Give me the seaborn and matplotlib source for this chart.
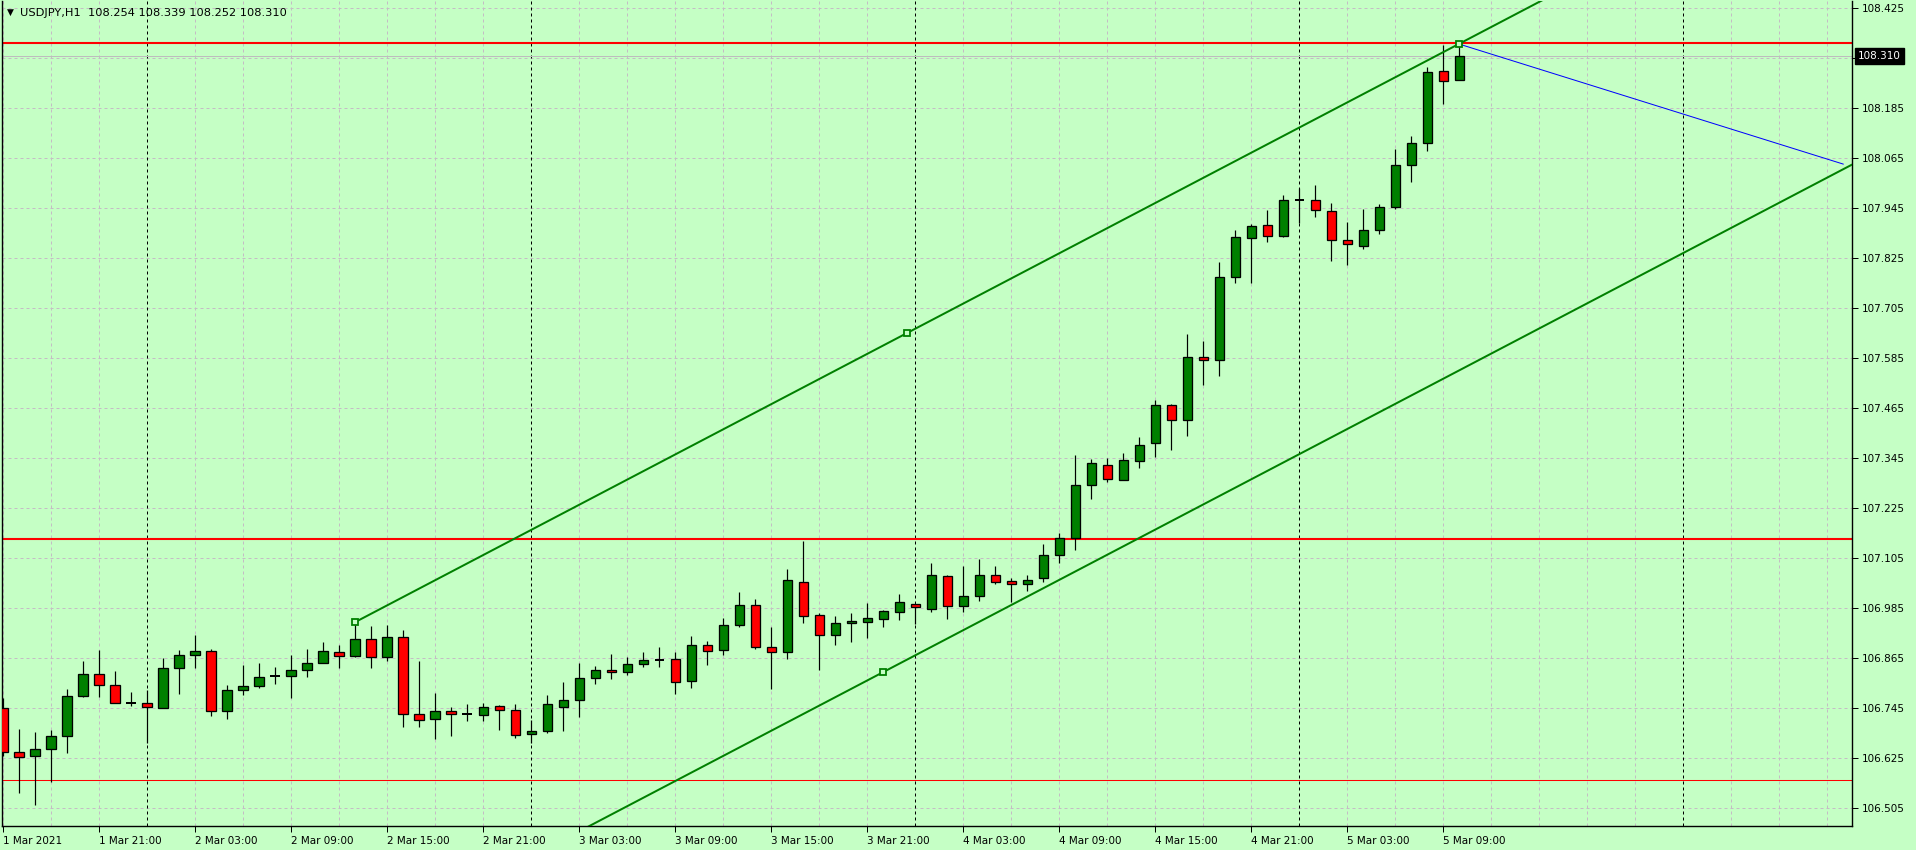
import numpy as np
import pandas as pd
import matplotlib
matplotlib.use("Agg")
import matplotlib.pyplot as plt
import seaborn as sns
from matplotlib.transforms import blended_transform_factory

# ---------------- data ----------------
title_symbol = "USDJPY,H1"
title_ohlc = "108.254 108.339 108.252 108.310"

opens = [106.746, 106.640, 106.631, 106.648, 106.679, 106.774, 106.828, 106.802, 106.758, 106.758,
         106.746, 106.842, 106.874, 106.883, 106.739, 106.789, 106.798, 106.822, 106.823, 106.838,
         106.854, 106.881, 106.871, 106.912, 106.868, 106.915, 106.732, 106.720, 106.739, 106.731,
         106.729, 106.751, 106.741, 106.684, 106.691, 106.749, 106.766, 106.818, 106.838, 106.833,
         106.852, 106.862, 106.864, 106.811, 106.898, 106.886, 106.946, 106.992, 106.893, 106.881,
         107.047, 106.968, 106.922, 106.949, 106.953, 106.960, 106.977, 106.995, 106.984, 107.062,
         106.991, 107.014, 107.064, 107.050, 107.044, 107.057, 107.114, 107.153, 107.280, 107.330,
         107.292, 107.338, 107.381, 107.472, 107.438, 107.587, 107.582, 107.779, 107.873, 107.904,
         107.878, 107.965, 107.964, 107.938, 107.870, 107.855, 107.894, 107.947, 108.048, 108.101,
         108.274, 108.254]
highs = [106.770, 106.696, 106.687, 106.694, 106.792, 106.858, 106.884, 106.834, 106.785, 106.788,
         106.866, 106.886, 106.920, 106.888, 106.802, 106.848, 106.853, 106.843, 106.874, 106.887,
         106.903, 106.896, 106.952, 106.942, 106.944, 106.932, 106.858, 106.782, 106.747, 106.756,
         106.757, 106.754, 106.756, 106.716, 106.778, 106.807, 106.853, 106.847, 106.875, 106.867,
         106.879, 106.891, 106.879, 106.918, 106.906, 106.961, 107.023, 107.007, 106.940, 107.079,
         107.146, 106.974, 106.966, 106.974, 106.998, 106.981, 107.020, 106.996, 107.094, 107.065,
         107.086, 107.104, 107.087, 107.058, 107.066, 107.139, 107.166, 107.353, 107.343, 107.345,
         107.358, 107.396, 107.485, 107.475, 107.643, 107.627, 107.816, 107.893, 107.907, 107.941,
         107.976, 107.993, 108.001, 107.958, 107.912, 107.943, 107.956, 108.087, 108.118, 108.285,
         108.337, 108.339]
lows = [106.631, 106.541, 106.514, 106.567, 106.637, 106.772, 106.772, 106.758, 106.750, 106.661,
        106.746, 106.779, 106.842, 106.726, 106.720, 106.777, 106.793, 106.803, 106.769, 106.820,
        106.854, 106.842, 106.868, 106.842, 106.858, 106.700, 106.700, 106.671, 106.678, 106.714,
        106.715, 106.693, 106.674, 106.661, 106.686, 106.690, 106.724, 106.804, 106.815, 106.825,
        106.844, 106.844, 106.779, 106.794, 106.849, 106.873, 106.939, 106.888, 106.792, 106.863,
        106.950, 106.837, 106.897, 106.904, 106.914, 106.939, 106.957, 106.947, 106.976, 106.959,
        106.976, 107.002, 107.043, 106.999, 107.026, 107.048, 107.094, 107.126, 107.248, 107.289,
        107.292, 107.322, 107.349, 107.366, 107.399, 107.522, 107.543, 107.766, 107.766, 107.865,
        107.875, 107.910, 107.925, 107.819, 107.810, 107.848, 107.884, 107.943, 108.009, 108.083,
        108.196, 108.252]
closes = [106.639, 106.628, 106.648, 106.679, 106.775, 106.828, 106.802, 106.758, 106.757, 106.749,
          106.842, 106.874, 106.883, 106.739, 106.789, 106.799, 106.821, 106.822, 106.838, 106.854,
          106.883, 106.871, 106.912, 106.868, 106.915, 106.731, 106.717, 106.739, 106.732, 106.731,
          106.749, 106.741, 106.681, 106.691, 106.756, 106.766, 106.818, 106.838, 106.833, 106.852,
          106.862, 106.862, 106.809, 106.898, 106.883, 106.946, 106.992, 106.893, 106.881, 107.054,
          106.967, 106.922, 106.949, 106.954, 106.961, 106.978, 106.999, 106.989, 107.064, 106.991,
          107.014, 107.064, 107.047, 107.044, 107.054, 107.114, 107.153, 107.280, 107.333, 107.295,
          107.340, 107.378, 107.472, 107.438, 107.587, 107.582, 107.779, 107.875, 107.902, 107.878,
          107.966, 107.964, 107.940, 107.870, 107.859, 107.892, 107.947, 108.048, 108.101, 108.271,
          108.250, 108.310]

time_label_bars = [0, 6, 12, 18, 24, 30, 36, 42, 48, 54, 60, 66, 72, 78, 84, 90]
time_labels = ["1 Mar 2021", "1 Mar 21:00", "2 Mar 03:00", "2 Mar 09:00", "2 Mar 15:00",
               "2 Mar 21:00", "3 Mar 03:00", "3 Mar 09:00", "3 Mar 15:00", "3 Mar 21:00",
               "4 Mar 03:00", "4 Mar 09:00", "4 Mar 15:00", "4 Mar 21:00", "5 Mar 03:00",
               "5 Mar 09:00"]
day_separator_bars = [9, 33, 57, 81, 105]

price_grid = [106.505, 106.625, 106.745, 106.865, 106.985, 107.105, 107.225, 107.345, 107.465,
              107.585, 107.705, 107.825, 107.945, 108.065, 108.185, 108.305, 108.425]
price_labels = ["106.505", "106.625", "106.745", "106.865", "106.985", "107.105", "107.225",
                "107.345", "107.465", "107.585", "107.705", "107.825", "107.945", "108.065",
                "108.185", "", "108.425"]
bid_price = 108.310

red_levels = [108.341, 107.152, 106.572]
red_widths = [1.5, 1.5, 0.75]

channel_p1 = (22, 106.952)
channel_p2 = (56.5, 107.646)
channel_p3 = (55, 106.832)

trend_p1 = (91, 108.339)
trend_p2 = (115, 108.051)

# ---------------- style ----------------
BG = "#C5FFC5"
GRID = "#C4BCC4"
BULL = "#008000"
BEAR = "#FF0000"
PX = 0.72  # one pixel in points at 100 dpi

sns.set_style("white", rc={"axes.facecolor": BG, "figure.facecolor": BG})
plt.rcParams["font.family"] = ["DejaVu Sans"]
FS = 7.5

W, H = 1916, 850
fig = plt.figure(figsize=(W / 100, H / 100), dpi=100, facecolor=BG)
ax_l, ax_r, ax_t, ax_b = 2, 1852, 1, 826
ax = fig.add_axes([ax_l / W, 1 - ax_b / H, (ax_r - ax_l) / W, (ax_b - ax_t) / H])
ax.set_facecolor(BG)

XLIM = (-0.08, 115.54)
YLIM = (106.4625, 108.4425)
ax.set_xlim(*XLIM)
ax.set_ylim(*YLIM)

# grid
for p in price_grid:
    ax.axhline(p, color=GRID, lw=PX, ls=(0, (3, 3)), zorder=0)
for b in range(0, 117, 3):
    if b in day_separator_bars:
        continue
    ax.axvline(b, color=GRID, lw=PX, ls=(0, (3, 3)), zorder=0)
for b in day_separator_bars:
    ax.axvline(b, color="black", lw=PX, ls=(0, (3, 3)), zorder=0.5)

# bid line
ax.axhline(bid_price, color="#BDBDBD", lw=PX, zorder=0.6)

# horizontal red levels
for lvl, lw in zip(red_levels, red_widths):
    ax.axhline(lvl, color=BEAR, lw=lw, zorder=1)

# candles
df = pd.DataFrame({"bar": np.arange(len(opens)), "open": opens, "high": highs,
                   "low": lows, "close": closes})
ax.vlines(df["bar"], df["low"], df["high"], color="black", lw=PX * 1.2, zorder=2)
body_w = 0.6
for r in df.itertuples():
    if abs(r.close - r.open) < 0.0015:
        ax.hlines(r.close, r.bar - body_w / 2, r.bar + body_w / 2, color="black",
                  lw=PX * 2, zorder=3)
        continue
    col = BULL if r.close > r.open else BEAR
    ax.bar(r.bar, abs(r.close - r.open), bottom=min(r.open, r.close), width=body_w,
           color=col, edgecolor="black", linewidth=PX * 1.3, zorder=3)

# equidistant channel
slope = (channel_p2[1] - channel_p1[1]) / (channel_p2[0] - channel_p1[0])
up_x = [channel_p1[0], XLIM[1]]
up_y = [channel_p1[1], channel_p1[1] + slope * (XLIM[1] - channel_p1[0])]
offset = channel_p3[1] - (channel_p1[1] + slope * (channel_p3[0] - channel_p1[0]))
lo_y = [v + offset for v in up_y]
sns.lineplot(x=up_x, y=up_y, ax=ax, color=BULL, lw=2 * PX, zorder=4, legend=False)
sns.lineplot(x=up_x, y=lo_y, ax=ax, color=BULL, lw=2 * PX, zorder=4, legend=False)

# trend line
sns.lineplot(x=[trend_p1[0], trend_p2[0]], y=[trend_p1[1], trend_p2[1]], ax=ax,
             color="#0000FF", lw=PX, zorder=4, legend=False)

# anchor squares
anc = pd.DataFrame({"x": [channel_p1[0], channel_p2[0], channel_p3[0], trend_p1[0]],
                    "y": [channel_p1[1], channel_p2[1], channel_p3[1], trend_p1[1]]})
ax.plot(anc["x"], anc["y"], ls="none", marker="s", ms=4, mfc=BG, mec=BULL, mew=1.3, zorder=5)

# axes styling
ax.spines["top"].set_visible(False)
for s in ["left", "right", "bottom"]:
    ax.spines[s].set_visible(True)
    ax.spines[s].set_color("black")
    ax.spines[s].set_linewidth(1.0)

ax.set_yticks(price_grid)
ax.set_yticklabels(price_labels)
ax.tick_params(axis="y", left=False, right=True, labelleft=False, labelright=True,
               length=4, width=PX, pad=3, labelsize=FS, colors="black", direction="out")
ax.set_xticks(time_label_bars)
ax.set_xticklabels(time_labels, ha="left")
ax.tick_params(axis="x", bottom=True, length=4, width=PX, pad=3, labelsize=FS,
               colors="black", direction="out")
for t in ax.get_xticklabels():
    t.set_horizontalalignment("left")
ax.set_xlabel("")
ax.set_ylabel("")

# bid box on right scale
tr = blended_transform_factory(ax.transAxes, ax.transData)
ax.text((1858 - ax_l) / (ax_r - ax_l), bid_price, "108.310", transform=tr, ha="left",
        va="center", color="white", fontsize=FS, clip_on=False, zorder=10,
        bbox=dict(boxstyle="square,pad=0.3", fc="black", ec="black"))

# title
fig.text(7 / W, 1 - 12.5 / H, "\u25BC", fontsize=6.5, ha="left", va="center", color="black")
fig.text(20 / W, 1 - 12.5 / H, f"{title_symbol}  {title_ohlc}", fontsize=8.2, ha="left",
         va="center", color="black")

fig.savefig("out.png", dpi=100, facecolor=BG)
